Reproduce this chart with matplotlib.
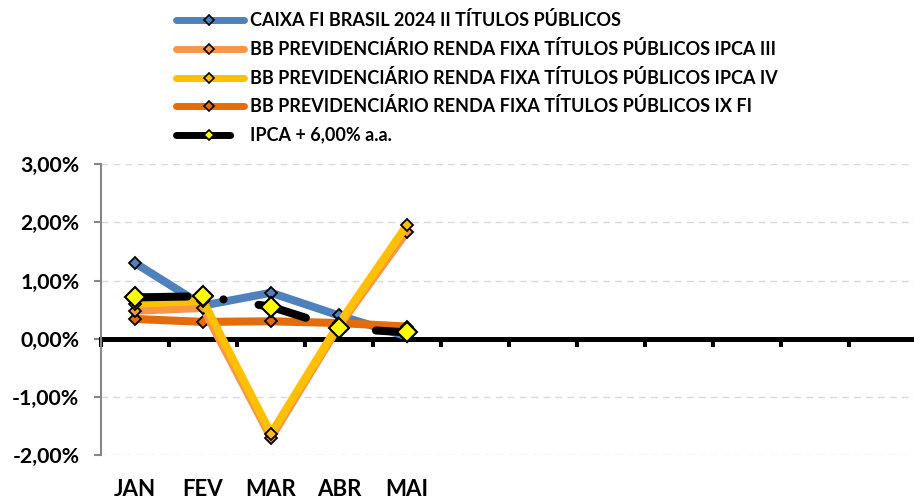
import matplotlib
matplotlib.use("Agg")
import matplotlib.pyplot as plt
from matplotlib import transforms
from matplotlib.ticker import FixedLocator, FuncFormatter

# monthly returns (% a.m.), JAN..MAI
months = ["JAN", "FEV", "MAR", "ABR", "MAI"]
n_slots = 12  # category axis runs through DEZ

caixa_2024 = [1.30, 0.57, 0.79, 0.40, 0.04]
bb_ipca_iii = [0.48, 0.53, -1.70, 0.22, 1.84]
bb_ipca_iv = [0.60, 0.65, -1.63, 0.26, 1.95]
bb_ix = [0.34, 0.29, 0.30, 0.27, 0.21]
ipca_meta = [0.71, 0.73, 0.55, 0.18, 0.11]

labels = [
    "CAIXA FI BRASIL 2024 II TÍTULOS PÚBLICOS",
    "BB PREVIDENCIÁRIO RENDA FIXA TÍTULOS PÚBLICOS IPCA III",
    "BB PREVIDENCIÁRIO RENDA FIXA TÍTULOS PÚBLICOS IPCA IV",
    "BB PREVIDENCIÁRIO RENDA FIXA TÍTULOS PÚBLICOS IX FI",
    "IPCA + 6,00% a.a.",
]

C_BLUE = "#4F81BD"
C_LORANGE = "#F79646"
C_GOLD = "#FFC000"
C_DORANGE = "#E46C0A"
C_META = "#000000"
C_MARK_META = "#FFFF00"

FONT = "Lato"
W, H = 914, 500

fig = plt.figure(figsize=(W / 100, H / 100), dpi=100)
ax = fig.add_axes([101 / W, 44.7 / H, 816 / W, 291.3 / H])

x = list(range(len(months)))
LW = 5.8
MS = 5.8

# (values, colour, zorder) -- drawing order as in the sheet
series = [
    (caixa_2024, C_BLUE, 3),
    (bb_ix, C_DORANGE, 4),
    (bb_ipca_iii, C_LORANGE, 5),
    (bb_ipca_iv, C_GOLD, 6),
]
for vals, col, z in series:
    ax.plot(x, vals, color=col, lw=LW, solid_capstyle="round",
            marker="D", ms=MS, mfc=col, mec="black", mew=1.3, zorder=z)

ax.plot(x, ipca_meta, color=C_META, lw=LW,
        linestyle=(14.6, (6.1, 4.5, 0.01, 4.4)), dash_capstyle="round",
        marker="D", ms=10.5, mfc=C_MARK_META, mec="black", mew=1.5, zorder=7)

ax.set_xlim(-0.5, n_slots - 0.5)
ax.set_ylim(-2, 3)

# grid
for v in [-2, -1, 1, 2, 3]:
    ax.axhline(v, color="#D9D9D9", lw=1.0, ls=(0, (5, 3.6)), zorder=1)

for s in ["top", "right"]:
    ax.spines[s].set_visible(False)
ax.spines["left"].set_color("#868686")
ax.spines["left"].set_linewidth(1.5)
ax.spines["bottom"].set_position(("data", 0))
ax.spines["bottom"].set_color("black")
ax.spines["bottom"].set_linewidth(3.6)
ax.spines["bottom"].set_zorder(2)

ax.yaxis.set_major_locator(FixedLocator([-2, -1, 0, 1, 2, 3]))
ax.yaxis.set_major_formatter(FuncFormatter(lambda v, p: f"{v:.2f}%".replace(".", ",")))
ax.tick_params(axis="y", colors="#868686", length=5, width=1.5, pad=10.5,
               labelcolor="black", labelsize=15.3)
for t in ax.get_yticklabels():
    t.set_fontfamily(FONT)
    t.set_fontweight("bold")

ax.xaxis.set_major_locator(FixedLocator([i - 0.5 for i in range(n_slots + 1)]))
ax.tick_params(axis="x", direction="out", length=5.8, width=2.9, color="black",
               labelbottom=False)

tr = transforms.blended_transform_factory(ax.transData, fig.transFigure)
for i, m in enumerate(months):
    ax.text(i, 11 / H, m, transform=tr, ha="center", va="center",
            fontsize=16, fontweight="bold", family=FONT, clip_on=False)

# legend, drawn in pixel coordinates of the figure
lax = fig.add_axes([0, 0, 1, 1], zorder=10)
lax.set_xlim(0, W)
lax.set_ylim(H, 0)
lax.axis("off")
rows_y = [20, 49, 78, 106, 135]
leg_style = [C_BLUE, C_LORANGE, C_GOLD, C_DORANGE]
for yy, col, lab in zip(rows_y, leg_style, labels):
    lax.plot([175.5, 243.5], [yy, yy], color=col, lw=5, solid_capstyle="round")
    lax.plot([209], [yy], marker="D", ms=4.6, mfc=col, mec="black", mew=1.2)
    lax.text(250, yy, lab, ha="left", va="center", fontsize=13,
             fontweight="bold", family=FONT)
yy = rows_y[-1]
lax.plot([175.5, 243.5], [yy, yy], color=C_META, lw=5,
         linestyle=(0, (7.8, 4, 0.01, 4)), dash_capstyle="round")
lax.plot([209], [yy], marker="D", ms=4.6, mfc=C_MARK_META, mec="black", mew=1.2)
lax.text(250, yy, labels[-1], ha="left", va="center", fontsize=13,
         fontweight="bold", family=FONT)

fig.savefig("out.png", dpi=100)
